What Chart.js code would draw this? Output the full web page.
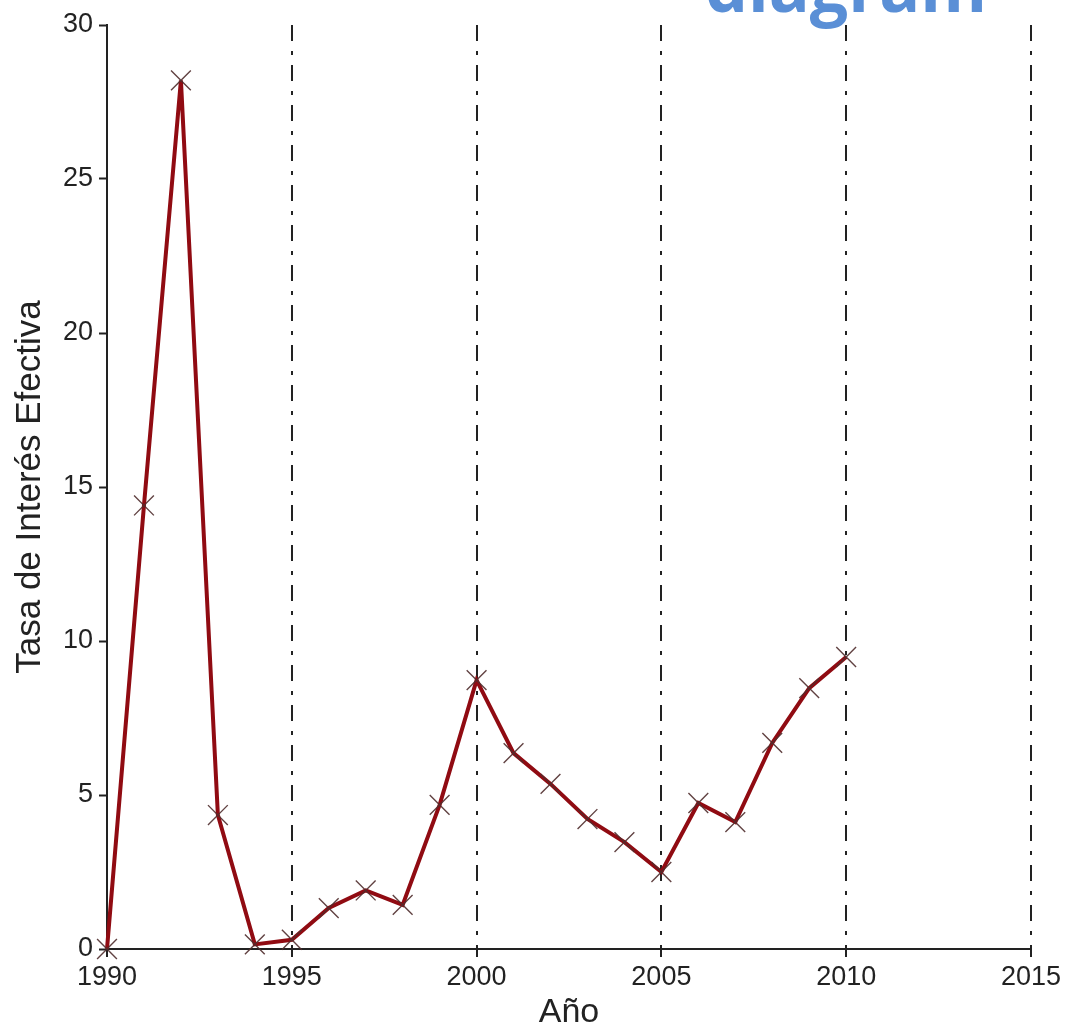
<!DOCTYPE html>
<html>
<head>
<meta charset="utf-8">
<script src="https://cdn.jsdelivr.net/npm/chart.js@4/dist/chart.umd.min.js"></script>
<style>
  html, body { margin: 0; padding: 0; background: #ffffff; }
  #wrap { position: relative; width: 1065px; height: 1035px; }
</style>
</head>
<body>
<div id="wrap"><canvas id="c" width="1065" height="1035"></canvas></div>
<script>
const years = [1990, 1991, 1992, 1993, 1994, 1995, 1996, 1997, 1998, 1999, 2000,
               2001, 2002, 2003, 2004, 2005, 2006, 2007, 2008, 2009, 2010];
const rates = [0, 14.4, 28.2, 4.35, 0.15, 0.3, 1.33, 1.9, 1.43, 4.68, 8.73,
               6.36, 5.36, 4.22, 3.47, 2.5, 4.74, 4.12, 6.69, 8.47, 9.48];
const xTicks = [1990, 1995, 2000, 2005, 2010, 2015];
const yTicks = [0, 5, 10, 15, 20, 25, 30];
const xTitle = 'Año';
const yTitle = 'Tasa de Interés Efectiva';
const overlayText = 'diagram';

const points = years.map((y, i) => ({ x: y, y: rates[i] }));

const overlayPlugin = {
  id: 'overlayText',
  afterDraw(chart) {
    const ctx = chart.ctx;
    ctx.save();
    ctx.font = 'bold 69px "Open Sans"';
    ctx.fillStyle = '#5a8fd6';
    ctx.textAlign = 'left';
    ctx.textBaseline = 'alphabetic';
    ctx.fillText(overlayText, 705, 12, 282);
    ctx.restore();
  }
};

new Chart(document.getElementById('c'), {
  type: 'line',
  data: {
    datasets: [{
      data: points,
      borderColor: '#900b12',
      borderWidth: 4,
      tension: 0,
      pointStyle: 'crossRot',
      pointRadius: 14,
      pointBorderWidth: 1.4,
      pointBorderColor: 'rgba(80,45,45,0.9)',
      pointBackgroundColor: 'rgba(0,0,0,0)',
      clip: false
    }]
  },
  options: {
    responsive: false,
    animation: false,
    layout: { padding: { top: 25, right: 34, left: 0, bottom: 0 } },
    plugins: { legend: { display: false }, tooltip: { enabled: false } },
    scales: {
      x: {
        type: 'linear',
        min: 1990,
        max: 2015,
        afterFit: s => { s.height = 86; },
        afterBuildTicks: s => { s.ticks = xTicks.map(v => ({ value: v })); },
        ticks: {
          font: { family: '"Liberation Sans", Arial', size: 27 },
          color: '#222',
          padding: 4,
          maxRotation: 0,
          callback: v => String(v)
        },
        grid: {
          color: ctx => (ctx.tick && ctx.tick.value === 1990) ? 'rgba(0,0,0,0)' : '#222',
          lineWidth: 2,
          drawTicks: true,
          tickLength: 8,
          tickColor: '#222',
          tickWidth: 2,
          tickBorderDash: []
        },
        border: { display: true, color: '#222', width: 2, dash: [16, 10, 4, 10] },
        title: {
          display: true,
          text: xTitle,
          font: { family: '"Liberation Sans", Arial', size: 34 },
          color: '#222',
          padding: { top: 2, bottom: 2 }
        }
      },
      y: {
        type: 'linear',
        min: 0,
        max: 30,
        afterFit: s => { s.width = 107; },
        afterBuildTicks: s => { s.ticks = yTicks.map(v => ({ value: v })); },
        ticks: {
          font: { family: '"Liberation Sans", Arial', size: 27 },
          color: '#222',
          padding: 6
        },
        grid: {
          drawOnChartArea: false,
          drawTicks: true,
          tickLength: 8,
          tickColor: '#222',
          tickWidth: 2
        },
        border: { display: true, color: '#222', width: 2 },
        title: {
          display: true,
          text: yTitle,
          font: { family: '"Liberation Sans", Arial', size: 35 },
          color: '#222',
          padding: { top: 9, bottom: 0 }
        }
      }
    }
  },
  plugins: [overlayPlugin]
});
</script>
</body>
</html>
